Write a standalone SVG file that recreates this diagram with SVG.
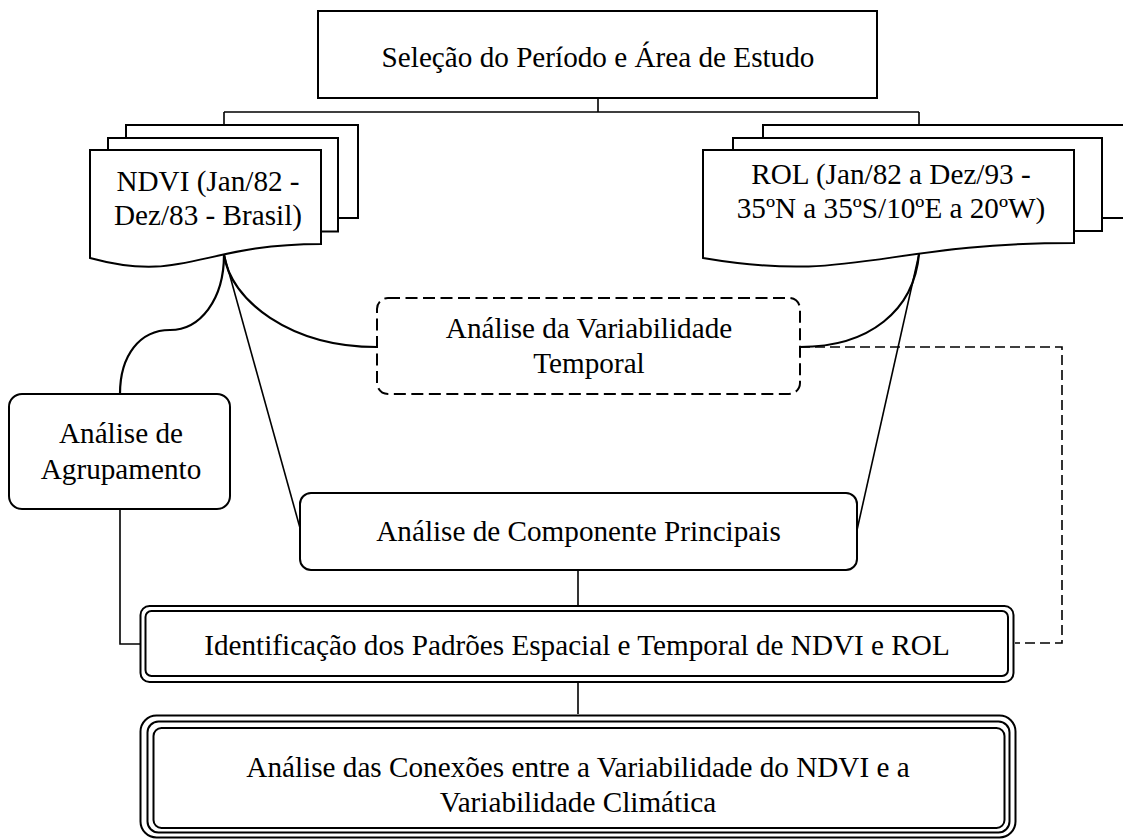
<svg xmlns="http://www.w3.org/2000/svg" width="1123" height="839" viewBox="0 0 1123 839">
<style>
  .t { font-family: "Liberation Serif", "Times New Roman", serif; font-size: 29.2px; fill: #000; text-anchor: middle; }
  .box { fill: #fff; stroke: #000; stroke-width: 2; }
  .page { fill: #fff; stroke: #000; stroke-width: 2; stroke-linejoin: miter; }
  .dbox { fill: #fff; stroke: #000; stroke-width: 2; stroke-dasharray: 12 5.5; }
  .ln { fill: none; stroke: #000; stroke-width: 1.6; }
  .cv { fill: none; stroke: #000; stroke-width: 2.2; }
  .dl { fill: none; stroke: #000; stroke-width: 1.6; stroke-dasharray: 10 5; }
</style>
<rect width="1123" height="839" fill="#fff"/>

<g id="connectors">
  <path class="ln" d="M598,98 V112 M224,112 H919 M224,112 V125 M919,112 V125"/>
  <path class="cv" d="M224,254.5 C224,300 200,330 170,330 C140,330 120,355 120,394"/>
  <path class="cv" d="M224,254.5 C230,300 290,347 377,347"/>
  <path class="ln" d="M224,254.5 L300,528"/>
  <path class="ln" d="M919,254 L857,530"/>
  <path class="cv" d="M919,254 C914,310 870,347 800,347"/>
  <path class="dl" d="M800,347 H1062 V643 H1015"/>
  <path class="ln" d="M120,509 V644 H140"/>
  <path class="ln" d="M578,570 V606"/>
  <path class="ln" d="M578,682 V714"/>
</g>

<g id="selecao">
  <rect class="box" x="318" y="11" width="559" height="87"/>
  <text class="t" x="598" y="67">Seleção do Período e Área de Estudo</text>
</g>

<g id="ndvi">
  <rect class="page" x="126" y="125" width="232" height="93"/>
  <rect class="page" x="108" y="138" width="230" height="93.5"/>
  <path class="page" d="M90,150 H321 V244 C200,244 185,284 90,258 Z"/>
  <text class="t" x="208" y="191">NDVI (Jan/82 -</text>
  <text class="t" x="208" y="225">Dez/83 - Brasil)</text>
</g>

<g id="rol">
  <rect class="page" x="763" y="125" width="372" height="93"/>
  <rect class="page" x="733" y="138" width="369" height="93"/>
  <path class="page" d="M703,150 H1074 V243 C880,243 856,284 703,258 Z"/>
  <text class="t" x="891" y="184">ROL (Jan/82 a Dez/93 -</text>
  <text class="t" x="891" y="218">35ºN a 35ºS/10ºE a 20ºW)</text>
</g>

<g id="variabilidade">
  <rect class="dbox" x="377" y="298" width="423" height="96" rx="11"/>
  <text class="t" x="589" y="338">Análise da Variabilidade</text>
  <text class="t" x="589" y="373">Temporal</text>
</g>

<g id="agrupamento">
  <rect class="box" x="9" y="394" width="221" height="115" rx="13"/>
  <text class="t" x="121" y="443">Análise de</text>
  <text class="t" x="121" y="479">Agrupamento</text>
</g>

<g id="componente">
  <rect class="box" x="300" y="493" width="557" height="77" rx="11"/>
  <text class="t" x="578.5" y="541">Análise de Componente Principais</text>
</g>

<g id="identificacao">
  <rect class="box" x="140.5" y="606" width="873" height="76" rx="9" stroke-width="2.3"/>
  <rect class="box" x="145.5" y="611" width="862.5" height="65" rx="6" stroke-width="2.3"/>
  <text class="t" x="577" y="655">Identificação dos Padrões Espacial e Temporal de NDVI e ROL</text>
</g>

<g id="conexoes">
  <rect class="box" x="140.5" y="715.5" width="875" height="122" rx="16" stroke-width="4"/>
  <rect class="box" x="147.5" y="721.5" width="862" height="111" rx="11" stroke-width="2.5"/>
  <rect class="box" x="153.5" y="728" width="851" height="100" rx="8" stroke-width="2.5"/>
  <text class="t" x="578" y="777">Análise das Conexões entre a Variabilidade do NDVI e a</text>
  <text class="t" x="578" y="812">Variabilidade Climática</text>
</g>
</svg>
